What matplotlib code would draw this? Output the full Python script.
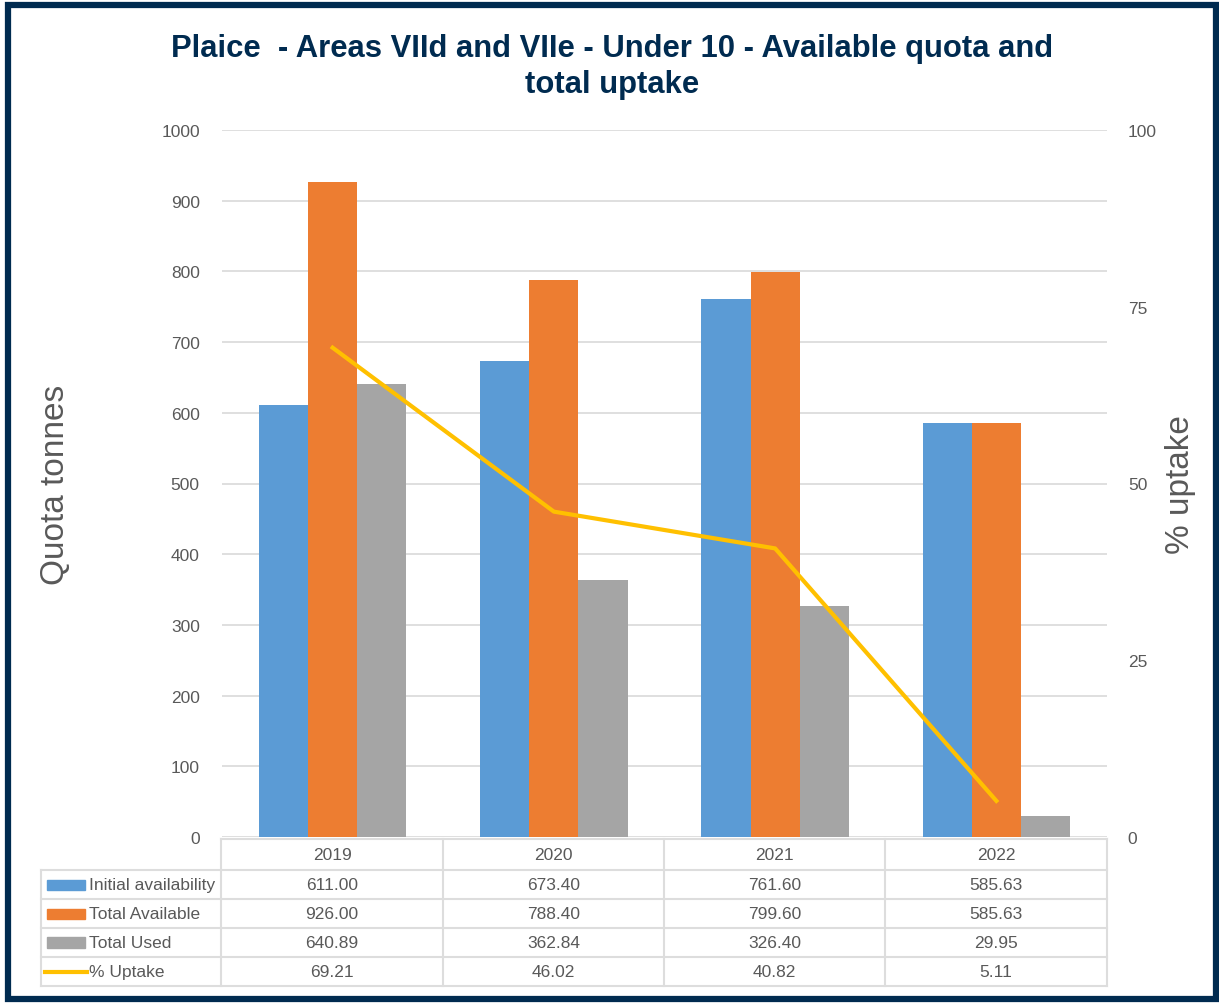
import matplotlib
matplotlib.use("Agg")
from matplotlib import pyplot as plt
from matplotlib.patches import Rectangle
from matplotlib.lines import Line2D
import numpy as np

plt.rcParams['font.family'] = ['Liberation Sans', 'DejaVu Sans']

# data
years = ["2019", "2020", "2021", "2022"]
initial_availability = [611.00, 673.40, 761.60, 585.63]
total_available = [926.00, 788.40, 799.60, 585.63]
total_used = [640.89, 362.84, 326.40, 29.95]
pct_uptake = [69.21, 46.02, 40.82, 5.11]

series_names = ["Initial availability", "Total Available", "Total Used", "% Uptake"]
colors = ["#5B9BD5", "#ED7D31", "#A5A5A5", "#FFC000"]
grey_text = "#595959"
navy = "#002B50"

W, H = 1219, 1004
fig = plt.figure(figsize=(W / 100, H / 100), dpi=100)


def fx(px):
    return px / W


def fy(py):
    return 1 - py / H


left, right, top, bottom = 222, 1107, 131, 838
ax = fig.add_axes([fx(left), fy(bottom), fx(right - left), fy(top) - fy(bottom)])

x = np.arange(len(years))
bw = 0.222
ax.bar(x - bw, initial_availability, bw, color=colors[0], zorder=3)
ax.bar(x, total_available, bw, color=colors[1], zorder=3)
ax.bar(x + bw, total_used, bw, color=colors[2], zorder=3)

ax.set_xlim(-0.5, len(years) - 0.5)
ax.set_ylim(0, 1000)
ax.set_yticks(range(0, 1001, 100))
ax.yaxis.grid(True, color="#D9D9D9", linewidth=1.2, zorder=0)
ax.set_xticks([])
for s in ax.spines.values():
    s.set_visible(False)
ax.tick_params(axis="y", length=0, pad=16, labelsize=12.5, labelcolor=grey_text)

ax2 = ax.twinx()
ax2.plot(x, pct_uptake, color=colors[3], linewidth=3, zorder=4)
ax2.set_ylim(0, 100)
ax2.set_yticks([0, 25, 50, 75, 100])
for s in ax2.spines.values():
    s.set_visible(False)
ax2.tick_params(axis="y", length=0, pad=15, labelsize=12.5, labelcolor=grey_text)

# axis titles
fig.text(fx(55), fy(485), "Quota tonnes", rotation=90, ha="center", va="center",
         fontsize=24, color=grey_text)
fig.text(fx(1180), fy(485), "% uptake", rotation=90, ha="center", va="center",
         fontsize=24, color=grey_text)

# title
fig.text(fx(612), fy(67), "Plaice  - Areas VIId and VIIe - Under 10 - Available quota and\ntotal uptake",
         ha="center", va="center", fontsize=22.3, fontweight="bold", color=navy,
         linespacing=1.25)

# data table under the plot
grid_c = "#DDDDDD"
col_edges = [221, 443, 664, 885, 1107]
row_edges = [840, 871, 900, 929, 958, 987]
tab_left = 41


def hline(x0, x1, y):
    fig.add_artist(Line2D([fx(x0), fx(x1)], [fy(y), fy(y)], color=grid_c, linewidth=1.5))


def vline(x0, y0, y1):
    fig.add_artist(Line2D([fx(x0), fx(x0)], [fy(y0), fy(y1)], color=grid_c, linewidth=1.5))


hline(col_edges[0], col_edges[-1], row_edges[0])
for r in row_edges[1:]:
    hline(tab_left, col_edges[-1], r)
vline(tab_left, row_edges[1], row_edges[-1])
for c in col_edges:
    vline(c, row_edges[0], row_edges[-1])

for i, yr in enumerate(years):
    cx = (col_edges[i] + col_edges[i + 1]) / 2
    fig.text(fx(cx), fy((row_edges[0] + row_edges[1]) / 2), yr, ha="center", va="center",
             fontsize=12.5, color=grey_text)

table_rows = [initial_availability, total_available, total_used, pct_uptake]
for j, vals in enumerate(table_rows):
    cy = (row_edges[j + 1] + row_edges[j + 2]) / 2
    if j < 3:
        fig.add_artist(Rectangle((fx(47), fy(cy + 5)), fx(38), fy(cy - 5) - fy(cy + 5),
                                 color=colors[j]))
    else:
        fig.add_artist(Line2D([fx(45), fx(87)], [fy(cy), fy(cy)], color=colors[j], linewidth=3))
    fig.text(fx(89), fy(cy), series_names[j], ha="left", va="center", fontsize=12.5,
             color=grey_text)
    for i, v in enumerate(vals):
        cx = (col_edges[i] + col_edges[i + 1]) / 2
        fig.text(fx(cx), fy(cy), "%.2f" % v, ha="center", va="center", fontsize=12.5,
                 color=grey_text)

# dark frame round the whole chart
fig.add_artist(Rectangle((fx(8), fy(1000)), fx(1208), fy(6) - fy(1000), fill=False,
                         edgecolor=navy, linewidth=4.5))

fig.savefig("out.png", dpi=100)
